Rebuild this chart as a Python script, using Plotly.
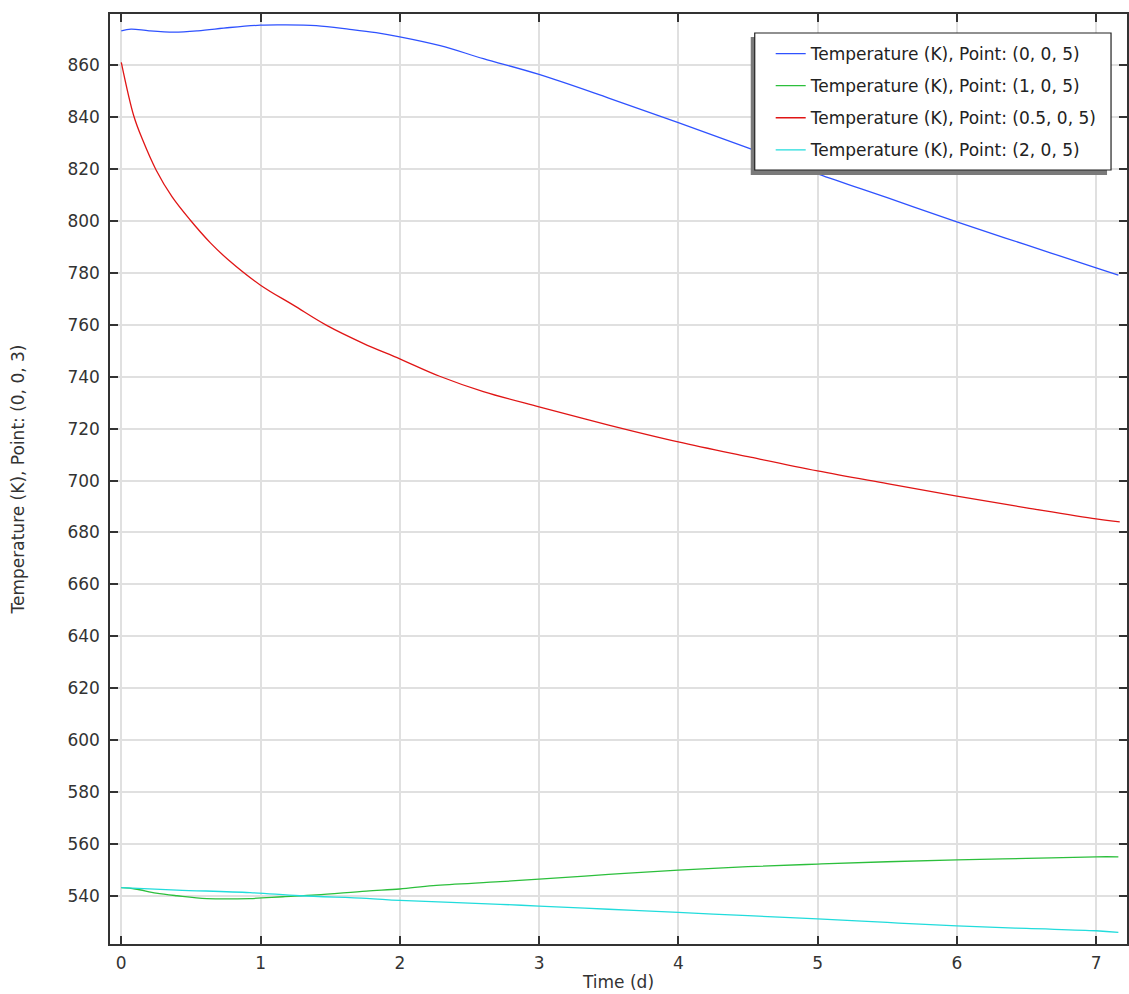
import plotly.graph_objects as go

# ---- data ----
t_blue = [0, 0.07, 0.2, 0.38, 0.55, 0.78, 1.0, 1.16, 1.4, 1.64, 1.83, 2.0, 2.29, 2.6, 3.0, 3.5, 4.0, 4.5, 5.0, 5.5, 6.0, 6.5, 7.0, 7.16]
T_blue = [873.3, 874.0, 873.3, 872.8, 873.3, 874.6, 875.5, 875.6, 875.3, 873.9, 872.6, 871.0, 867.6, 862.6, 856.5, 847.4, 837.9, 828.2, 818.2, 809.0, 799.7, 790.8, 782.0, 779.2]

t_green = [0, 0.1, 0.25, 0.4, 0.615, 0.925, 1.16, 1.4, 1.76, 2.0, 2.24, 2.72, 3.0, 3.5, 4.0, 4.5, 5.0, 5.5, 6.0, 6.5, 7.0, 7.16]
T_green = [543.1, 542.6, 541.0, 540.0, 538.9, 538.9, 539.6, 540.3, 541.8, 542.6, 543.9, 545.4, 546.4, 548.2, 549.9, 551.2, 552.2, 553.1, 553.8, 554.4, 555.0, 555.0]

t_red = [0, 0.09, 0.154, 0.25, 0.364, 0.495, 0.64, 0.77, 1.0, 1.236, 1.475, 1.737, 2.0, 2.286, 2.6, 3.0, 3.5, 4.0, 4.5, 5.0, 5.5, 6.0, 6.5, 7.0, 7.17]
T_red = [861.2, 840.5, 831.2, 819.7, 809.4, 800.4, 791.6, 785.0, 775.3, 767.6, 759.8, 752.9, 746.9, 740.2, 734.3, 728.4, 721.4, 714.9, 709.2, 703.7, 698.8, 694.0, 689.5, 685.2, 684.1]

t_cyan = [0, 0.4, 0.925, 1.28, 1.76, 2.0, 2.72, 3.0, 3.5, 4.0, 4.5, 5.0, 5.5, 6.0, 6.5, 7.0, 7.16]
T_cyan = [543.1, 542.2, 541.2, 540.0, 539.0, 538.2, 536.7, 536.0, 534.8, 533.6, 532.3, 531.1, 529.7, 528.4, 527.4, 526.5, 525.9]

names = ["Temperature (K), Point: (0, 0, 5)",
         "Temperature (K), Point: (1, 0, 5)",
         "Temperature (K), Point: (0.5, 0, 5)",
         "Temperature (K), Point: (2, 0, 5)"]
colors = ["#2f52ff", "#2cbf3c", "#e01515", "#22dcdc"]

x_ticks = [0, 1, 2, 3, 4, 5, 6, 7]
y_ticks = list(range(540, 861, 20))

series = [(t_blue, T_blue), (t_green, T_green), (t_red, T_red), (t_cyan, T_cyan)]

FONT = "DejaVu Sans"
FS = 17
fig = go.Figure()
for i, ((tx, ty), nm, c) in enumerate(zip(series, names, colors)):
    fig.add_trace(go.Scatter(x=tx, y=ty, mode="lines", name=nm, legendgroup=f"g{i}",
                             line=dict(color=c, width=1.3, shape="spline", smoothing=1.0)))

W, H = 1129, 994
L, R, T, B = 110, 0, 14, 50
pw, ph = W - L - R, H - T - B

def px2paper_x(sx):
    return (sx - L) / pw

def px2paper_y(sy):
    return 1 - (sy - T) / ph

# legend shadow and frame
fig.add_shape(type="rect", xref="paper", yref="paper",
              x0=px2paper_x(752), x1=px2paper_x(1109), y0=px2paper_y(175), y1=px2paper_y(37),
              fillcolor="#7a7a7a", line=dict(width=0), layer="above")
fig.add_shape(type="rect", xref="paper", yref="paper",
              x0=px2paper_x(756), x1=px2paper_x(1113), y0=px2paper_y(170), y1=px2paper_y(33),
              fillcolor="white", line=dict(color="#222222", width=1.2), layer="above")

axis_common = dict(showline=True, linecolor="#333333", linewidth=1.5, mirror="ticks",
                   ticks="inside", ticklen=8, tickwidth=1.5, tickcolor="#333333",
                   showgrid=True, gridcolor="#e0e0e0", gridwidth=1.5, zeroline=False,
                   tickfont=dict(family=FONT, size=FS, color="#333333"))

fig.update_layout(
    width=W, height=H,
    margin=dict(l=L, r=R, t=T, b=B),
    paper_bgcolor="white", plot_bgcolor="white",
    font=dict(family=FONT, size=FS, color="#333333"),
    xaxis=dict(range=[-0.081, 7.222], tickvals=x_ticks, ticktext=[str(v) for v in x_ticks],
               title=dict(text="Time (d)", font=dict(family=FONT, size=FS, color="#333333"), standoff=4),
               ticklabelstandoff=3, **axis_common),
    yaxis=dict(range=[521.4, 879.8], tickvals=y_ticks, ticktext=[str(v) for v in y_ticks],
               title=dict(text="Temperature (K), Point: (0, 0, 3)", font=dict(family=FONT, size=FS, color="#333333"), standoff=38),
               ticklabelstandoff=5, **axis_common),
    legend=dict(x=px2paper_x(772), y=px2paper_y(36), xanchor="left", yanchor="top",
                bgcolor="rgba(0,0,0,0)", borderwidth=0,
                font=dict(family=FONT, size=FS, color="#222222"),
                tracegroupgap=7, traceorder="grouped"),
    showlegend=True,
)

fig.write_html("out.html", config={"displayModeBar": False},
               post_script="document.body.style.margin='0';document.body.style.overflow='hidden';")
